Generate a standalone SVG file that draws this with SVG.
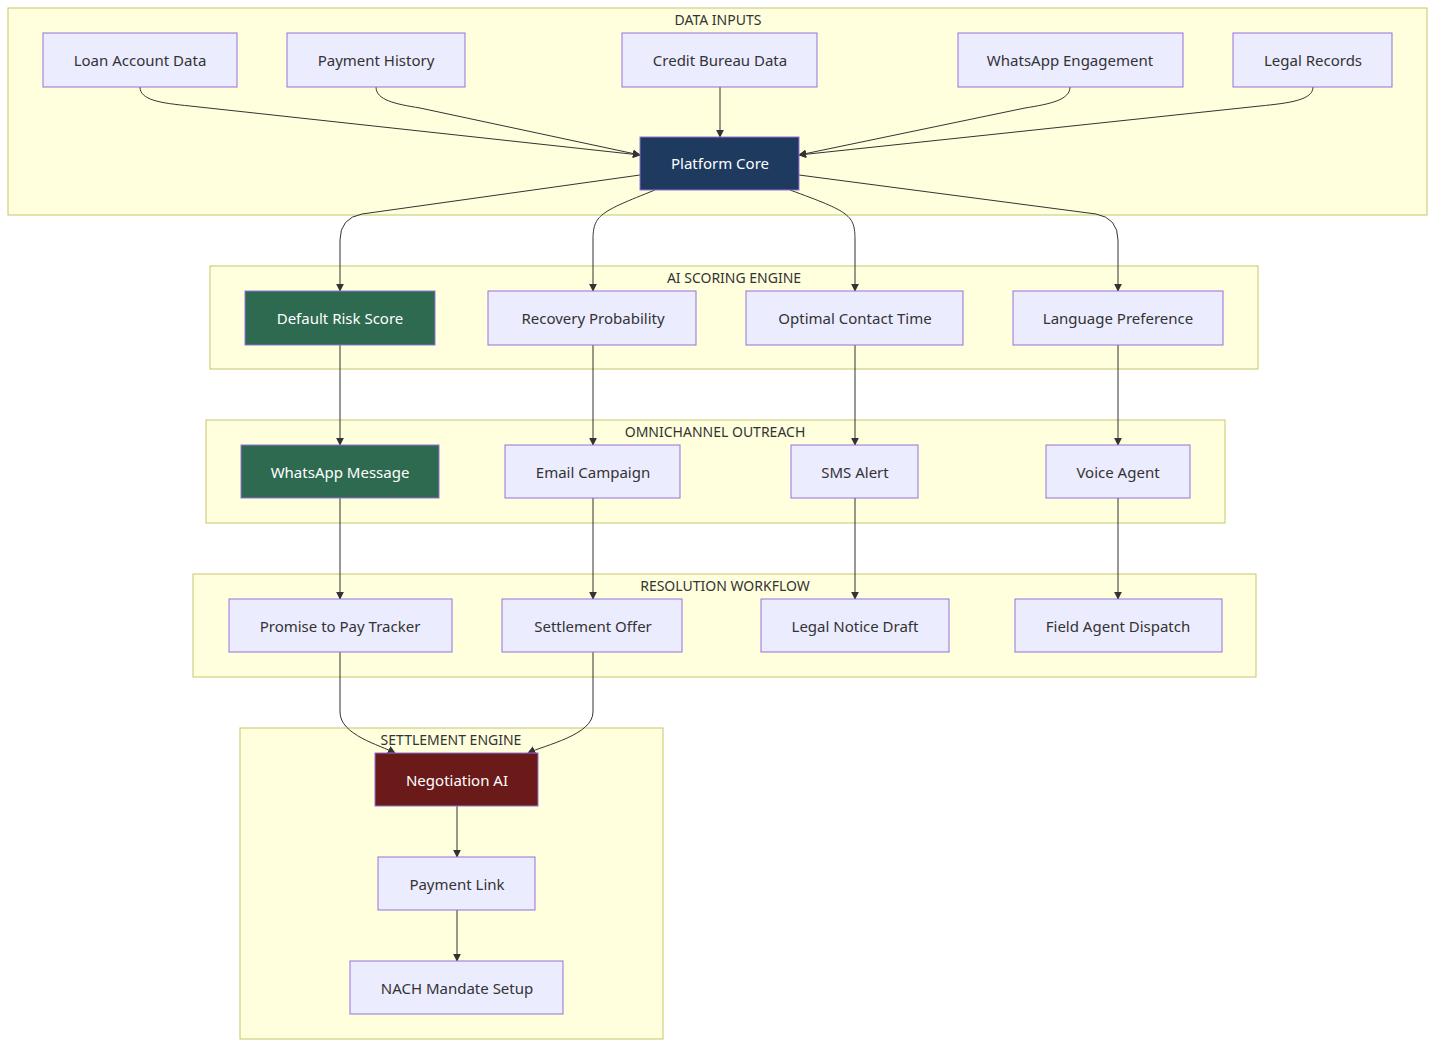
<svg xmlns="http://www.w3.org/2000/svg" width="1436" height="1048" viewBox="0 0 1436 1048">
<defs>
<style>
.cl{fill:#ffffde;stroke:#c6c66a;stroke-width:1}
.n{fill:#ececff;stroke:#9370db;stroke-width:1}
.g{fill:#2d6a4f;stroke:#9370db}
.b{fill:#1e3a5f;stroke:#9370db}
.r{fill:#6b1a1a;stroke:#9370db}
text{font-family:"Noto Sans","Open Sans",sans-serif;font-size:15px;fill:#333;text-anchor:middle;dominant-baseline:central}
.w{fill:#fff}
.t{font-size:14px}
.e{fill:none;stroke:#333;stroke-width:1;marker-end:url(#a)}
</style>
<marker id="a" viewBox="0 0 10 10" refX="9" refY="5" markerWidth="8" markerHeight="8" orient="auto"><path d="M0,0L10,5L0,10z" fill="#333"/></marker>
</defs>
<g id="clusters">
<rect class="cl" x="8" y="8" width="1419" height="207"/><text class="t" x="718" y="19">DATA INPUTS</text>
<rect class="cl" x="210" y="266" width="1048" height="103"/><text class="t" x="734" y="277">AI SCORING ENGINE</text>
<rect class="cl" x="206" y="420" width="1019" height="103"/><text class="t" x="715" y="431">OMNICHANNEL OUTREACH</text>
<rect class="cl" x="193" y="574" width="1063" height="103"/><text class="t" x="725" y="585">RESOLUTION WORKFLOW</text>
<rect class="cl" x="240" y="728" width="423" height="311"/><text class="t" x="451" y="739">SETTLEMENT ENGINE</text>
</g>
<g id="connectors">
<path class="e" d="M140,87 C140,100 160,103 190,106 L640,155"/>
<path class="e" d="M376,87 C376,100 395,104 420,108 L640,155"/>
<path class="e" d="M720,87 L720,137"/>
<path class="e" d="M1070,87 C1070,100 1050,104 1025,108 L799,155"/>
<path class="e" d="M1313,87 C1313,100 1290,103 1260,106 L799,155"/>
<path class="e" d="M640,175 L362,214 Q340,218 340,240 L340,291"/>
<path class="e" d="M655,190 C600,212 593,215 593,240 L593,291"/>
<path class="e" d="M790,190 C850,212 855,215 855,240 L855,291"/>
<path class="e" d="M799,175 L1096,214 Q1118,218 1118,240 L1118,291"/>
<path class="e" d="M340,345 L340,445"/>
<path class="e" d="M593,345 L593,445"/>
<path class="e" d="M855,345 L855,445"/>
<path class="e" d="M1118,345 L1118,445"/>
<path class="e" d="M340,498 L340,599"/>
<path class="e" d="M593,498 L593,599"/>
<path class="e" d="M855,498 L855,599"/>
<path class="e" d="M1118,498 L1118,599"/>
<path class="e" d="M340,652 L340,712 C340,735 380,745 395,753"/>
<path class="e" d="M593,652 L593,712 C593,735 545,745 528,753"/>
<path class="e" d="M457,806 L457,857"/>
<path class="e" d="M457,910 L457,961"/>
</g>
<g id="n1"><rect class="n" x="43" y="33" width="194" height="54"/><text x="140" y="60">Loan Account Data</text></g>
<g id="n2"><rect class="n" x="287" y="33" width="178" height="54"/><text x="376" y="60">Payment History</text></g>
<g id="n3"><rect class="n" x="622" y="33" width="195" height="54"/><text x="720" y="60">Credit Bureau Data</text></g>
<g id="n4"><rect class="n" x="958" y="33" width="225" height="54"/><text x="1070" y="60">WhatsApp Engagement</text></g>
<g id="n5"><rect class="n" x="1233" y="33" width="159" height="54"/><text x="1313" y="60">Legal Records</text></g>
<g id="core"><rect class="b" x="640" y="137" width="159" height="53"/><text class="w" x="720" y="163">Platform Core</text></g>
<g id="s1"><rect class="g" x="245" y="291" width="190" height="54"/><text class="w" x="340" y="318">Default Risk Score</text></g>
<g id="s2"><rect class="n" x="488" y="291" width="208" height="54"/><text x="593" y="318">Recovery Probability</text></g>
<g id="s3"><rect class="n" x="746" y="291" width="217" height="54"/><text x="855" y="318">Optimal Contact Time</text></g>
<g id="s4"><rect class="n" x="1013" y="291" width="210" height="54"/><text x="1118" y="318">Language Preference</text></g>
<g id="o1"><rect class="g" x="241" y="445" width="198" height="53"/><text class="w" x="340" y="472">WhatsApp Message</text></g>
<g id="o2"><rect class="n" x="505" y="445" width="175" height="53"/><text x="593" y="472">Email Campaign</text></g>
<g id="o3"><rect class="n" x="791" y="445" width="127" height="53"/><text x="855" y="472">SMS Alert</text></g>
<g id="o4"><rect class="n" x="1046" y="445" width="144" height="53"/><text x="1118" y="472">Voice Agent</text></g>
<g id="r1"><rect class="n" x="229" y="599" width="223" height="53"/><text x="340" y="626">Promise to Pay Tracker</text></g>
<g id="r2"><rect class="n" x="502" y="599" width="180" height="53"/><text x="593" y="626">Settlement Offer</text></g>
<g id="r3"><rect class="n" x="761" y="599" width="188" height="53"/><text x="855" y="626">Legal Notice Draft</text></g>
<g id="r4"><rect class="n" x="1015" y="599" width="207" height="53"/><text x="1118" y="626">Field Agent Dispatch</text></g>
<g id="neg"><rect class="r" x="375" y="753" width="163" height="53"/><text class="w" x="457" y="780">Negotiation AI</text></g>
<g id="pl"><rect class="n" x="378" y="857" width="157" height="53"/><text x="457" y="884">Payment Link</text></g>
<g id="nach"><rect class="n" x="350" y="961" width="213" height="53"/><text x="457" y="988">NACH Mandate Setup</text></g>
</svg>
